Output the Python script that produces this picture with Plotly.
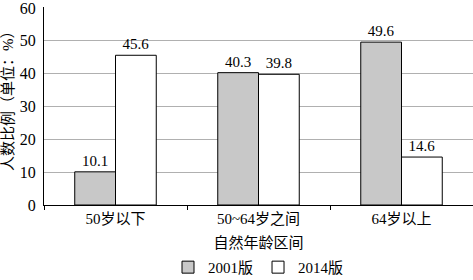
import plotly.graph_objects as go

categories = ["50岁以下", "50~64岁之间", "64岁以上"]
v2001 = [10.1, 40.3, 49.6]
v2014 = [45.6, 39.8, 14.6]
series_names = ["2001版", "2014版"]
y_ticks = [0, 10, 20, 30, 40, 50, 60]

FONT = "Liberation Serif, Times New Roman, Noto Sans CJK SC, serif"

fig = go.Figure()
fig.add_trace(go.Bar(
    x=categories, y=v2001, name=series_names[0],
    marker=dict(color="#c8c8c8", line=dict(color="black", width=1)),
    text=[f"{v:.1f}" for v in v2001], textposition="outside",
    textfont=dict(size=15, color="black", family=FONT), cliponaxis=False,
))
fig.add_trace(go.Bar(
    x=categories, y=v2014, name=series_names[1],
    marker=dict(color="white", line=dict(color="black", width=1)),
    text=[f"{v:.1f}" for v in v2014], textposition="outside",
    textfont=dict(size=15, color="black", family=FONT), cliponaxis=False,
))

fig.add_annotation(text="人数比例（单位：%）", xref="paper", yref="paper",
                   x=-0.084, y=0.545, textangle=-90, showarrow=False,
                   xanchor="center", yanchor="middle", font=dict(size=15))

fig.update_layout(
    width=473, height=280,
    margin=dict(l=44, r=0, t=7, b=75),
    paper_bgcolor="white", plot_bgcolor="white",
    barmode="group", bargap=0.43, bargroupgap=0,
    font=dict(family=FONT, size=13, color="black"),
    showlegend=True,
    legend=dict(orientation="h", x=0.5, xanchor="center", yref="container", y=0.045, yanchor="middle",
                font=dict(size=15), itemwidth=30, traceorder="normal"),
    xaxis=dict(
        showline=True, linecolor="black", linewidth=1,
        ticks="outside", ticklen=4, tickcolor="black",
        tickson="boundaries",
        tickfont=dict(size=15),
        automargin=False,
        title=dict(text="自然年龄区间", font=dict(size=15), standoff=12),
    ),
    yaxis=dict(
        range=[0, 60.3], tickvals=y_ticks,
        showline=True, linecolor="black", linewidth=1,
        showgrid=True, gridcolor="#b0b0b0", gridwidth=1,
        ticks="", tickfont=dict(size=16), ticklabelstandoff=4,
        ticklabeloverflow="allow",
        automargin=False,
        zeroline=False,
    ),
)

fig.write_html("out.html")
